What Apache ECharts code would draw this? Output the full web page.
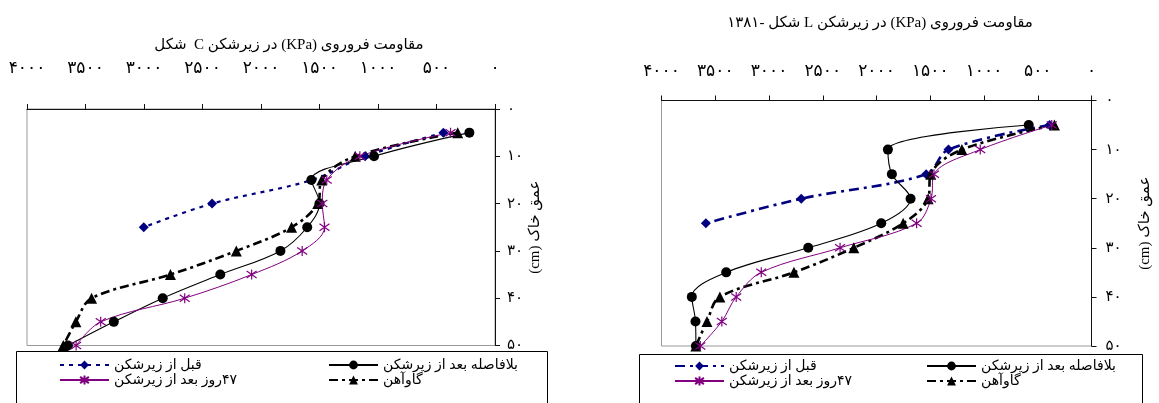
<!DOCTYPE html>
<html><head><meta charset="utf-8">
<script src="https://cdn.jsdelivr.net/npm/echarts@6/dist/echarts.min.js"></script>
<style>html,body{margin:0;padding:0;background:#fff}#c{width:1159px;height:403px}</style>
</head><body><div id="c"></div>
<script>
// ---------- data ----------
const depths = [5, 10, 15, 20, 25, 30, 35, 40, 45, 50];
const depthsBefore = [5, 10, 15, 20, 25];
const xTickLabels = ['۰', '۵۰۰', '۱۰۰۰', '۱۵۰۰', '۲۰۰۰', '۲۵۰۰', '۳۰۰۰', '۳۵۰۰', '۴۰۰۰'];
const yTickLabels = ['۰', '۱۰', '۲۰', '۳۰', '۴۰', '۵۰'];
const nameBefore = 'قبل از زیرشکن';
const nameImmediate = 'بلافاصله بعد از زیرشکن';
const namePlow = 'گاوآهن';
const name47 = '۴۷روز بعد از زیرشکن';
const titleC = 'مقاومت فروروی (KPa) در زیرشکن C  شکل';
const titleL = 'مقاومت فروروی (KPa) در زیرشکن L شکل -۱۳۸۱';
const depthName = 'عمق خاک (cm)';

// C-shaped subsoiler (left panel), KPa
const cBefore    = [441, 1110, 1565, 2418, 3002];
const cImmediate = [219, 1034, 1570, 1500, 1605, 1834, 2348, 2840, 3258, 3650];
const cPlow      = [319, 1195, 1481, 1515, 1739, 2211, 2774, 3448, 3582, 3690];
const c47        = [380, 1155, 1438, 1476, 1457, 1648, 2080, 2652, 3370, 3580];

// L-shaped subsoiler (right panel), KPa
const lBefore    = [390, 1330, 1538, 2700, 3587];
const lImmediate = [584, 1894, 1857, 1683, 1956, 2635, 3398, 3718, 3684, 3680];
const lPlow      = [345, 1206, 1495, 1520, 1752, 2211, 2768, 3457, 3577, 3680];
const l47        = [370, 1035, 1465, 1493, 1627, 2339, 3072, 3305, 3439, 3639];

// ---------- chart ----------
const FONT = "'Liberation Serif','DejaVu Sans',serif";
const RLE = '\u202B', PDF = '\u202C';
const rtl = s => RLE + s + PDF;
const pairs = (vals, ds) => vals.map((v, i) => [v, ds[i]]);
const STAR = 'path://M5 0L5 10M0 1.5L10 8.5M10 1.5L0 8.5';
const NAVY = '#000080', PURPLE = '#800080';

const legendText = {
  cB: nameBefore, cI: nameImmediate, cP: namePlow, c4: name47,
  lB: nameBefore, lI: nameImmediate, lP: namePlow, l4: name47
};

function mkSeries(prefix, gi, before, immediate, plow, d47, blueDash, blueWidth) {
  return [
    { name: prefix + 'B', type: 'line', xAxisIndex: gi, yAxisIndex: gi, data: pairs(before, depthsBefore),
      smooth: 0.35, symbol: 'diamond', symbolSize: 10,
      lineStyle: { color: NAVY, width: blueWidth, type: blueDash }, itemStyle: { color: NAVY } },
    { name: prefix + 'I', type: 'line', xAxisIndex: gi, yAxisIndex: gi, data: pairs(immediate, depths),
      smooth: 0.35, symbol: 'circle', symbolSize: 10,
      lineStyle: { color: '#000', width: 1.1, type: 'solid' }, itemStyle: { color: '#000' } },
    { name: prefix + 'P', type: 'line', xAxisIndex: gi, yAxisIndex: gi, data: pairs(plow, depths),
      smooth: 0.35, symbol: 'triangle', symbolSize: 11,
      lineStyle: { color: '#000', width: 2.6, type: [9, 4, 3, 4] }, itemStyle: { color: '#000' } },
    { name: prefix + '4', type: 'line', xAxisIndex: gi, yAxisIndex: gi, data: pairs(d47, depths),
      smooth: 0.35, symbol: STAR, symbolSize: 10,
      lineStyle: { color: PURPLE, width: 1, type: 'solid' },
      itemStyle: { color: PURPLE, borderColor: PURPLE, borderWidth: 1.2 } }
  ];
}

function mkX(gi, labelMargin) {
  return {
    gridIndex: gi, type: 'value', position: 'top', inverse: true, min: 0, max: 4000, interval: 500,
    axisLine: { show: true, lineStyle: { color: '#111', width: 1 } },
    axisTick: { show: true, length: 5, lineStyle: { color: '#111' } },
    splitLine: { show: false },
    axisLabel: { margin: labelMargin, color: '#000', fontFamily: FONT, fontSize: 17,
      formatter: v => xTickLabels[Math.round(v / 500)] }
  };
}
function mkY(gi, labelMargin, gap) {
  return {
    gridIndex: gi, type: 'value', position: 'right', inverse: true, min: 0, max: 50, interval: 10,
    axisLine: { show: true, lineStyle: { color: '#111', width: 1 } },
    axisTick: { show: true, length: 5, lineStyle: { color: '#111' } },
    splitLine: { show: false },
    axisLabel: { margin: labelMargin, color: '#000', fontFamily: FONT, fontSize: 15,
      formatter: v => yTickLabels[Math.round(v / 10)] },
    name: rtl(depthName), nameLocation: 'middle', nameRotate: 90, nameGap: gap,
    nameTextStyle: { color: '#000', fontFamily: FONT, fontSize: 15 }
  };
}
function mkLegend(name, left, top) {
  return {
    data: [name], left: left, top: top, padding: 0, itemWidth: 49, itemHeight: 11,
    selectedMode: false, formatter: n => rtl(legendText[n]),
    textStyle: { color: '#000', fontFamily: FONT, fontSize: 14 }
  };
}

const chart = echarts.init(document.getElementById('c'), null, { renderer: 'canvas' });
chart.setOption({
  animation: false,
  backgroundColor: '#fff',
  grid: [
    { left: 27, top: 109, width: 468, height: 236.5, show: true, borderColor: '#999', borderWidth: 1, backgroundColor: 'transparent' },
    { left: 661.5, top: 100.5, width: 430, height: 245.5, show: true, borderColor: '#999', borderWidth: 1, backgroundColor: 'transparent' }
  ],
  xAxis: [mkX(0, 32), mkX(1, 20)],
  yAxis: [mkY(0, 12, 33), mkY(1, 14, 46)],
  legend: [
    mkLegend('cB', 59, 358), mkLegend('cI', 328, 358), mkLegend('c4', 59, 373), mkLegend('cP', 328, 373),
    mkLegend('lB', 674, 359), mkLegend('lI', 926, 359), mkLegend('l4', 674, 374), mkLegend('lP', 926, 374)
  ],
  graphic: [
    { type: 'rect', z: 0, shape: { x: 16.5, y: 351.5, width: 531, height: 100 },
      style: { fill: '#fff', stroke: '#000', lineWidth: 1 } },
    { type: 'rect', z: 0, shape: { x: 639.5, y: 354.5, width: 503, height: 100 },
      style: { fill: '#fff', stroke: '#000', lineWidth: 1 } },
    { type: 'text', x: 289, y: 45, style: { text: rtl(titleC), align: 'center', verticalAlign: 'middle',
      fill: '#000', font: '15px ' + FONT } },
    { type: 'text', x: 880, y: 23, style: { text: rtl(titleL), align: 'center', verticalAlign: 'middle',
      fill: '#000', font: '15px ' + FONT } }
  ],
  series: [].concat(
    mkSeries('c', 0, cBefore, cImmediate, cPlow, c47, [4, 5], 2.2),
    mkSeries('l', 1, lBefore, lImmediate, lPlow, l47, [10, 5, 3, 5], 2.6)
  )
});
</script></body></html>
